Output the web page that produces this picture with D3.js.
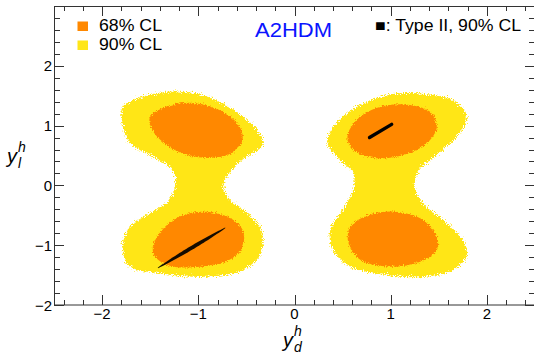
<!DOCTYPE html>
<html><head><meta charset="utf-8">
<script src="https://cdn.jsdelivr.net/npm/d3@7"></script>
<style>
body{margin:0;background:#fff}
svg{display:block}
text{font-family:"Liberation Sans",Arial,Helvetica,sans-serif}
</style>
</head><body>
<svg id="c" width="534" height="356"></svg>
<script>
// ---- data (y_d^h, y_l^h) ----
const xTicks = [-2, -1, 0, 1, 2];
const yTicks = [-2, -1, 0, 1, 2];
const legendItems = ["68% CL", "90% CL"];
const titleText = "A2HDM";
const typeIILabel = "\u25A0: Type II, 90% CL";

const yellowLeft = [[-1.78,1.32],[-1.40,1.55],[-0.98,1.52],[-0.64,1.27],[-0.39,0.93],[-0.33,0.68],[-0.54,0.43],[-0.67,0.23],[-0.74,-0.02],[-0.67,-0.24],[-0.49,-0.46],[-0.36,-0.69],[-0.33,-0.96],[-0.39,-1.24],[-0.57,-1.44],[-0.98,-1.53],[-1.43,-1.46],[-1.71,-1.36],[-1.79,-1.03],[-1.71,-0.69],[-1.50,-0.46],[-1.33,-0.29],[-1.24,-0.02],[-1.27,0.26],[-1.47,0.48],[-1.71,0.71],[-1.79,1.05]];
const yellowRight = [[0.34,0.73],[0.44,1.05],[0.65,1.32],[0.99,1.52],[1.41,1.52],[1.69,1.38],[1.79,1.15],[1.72,0.88],[1.51,0.55],[1.30,0.26],[1.25,-0.02],[1.33,-0.29],[1.54,-0.57],[1.75,-0.91],[1.79,-1.19],[1.65,-1.41],[1.33,-1.53],[0.92,-1.49],[0.58,-1.36],[0.40,-1.08],[0.37,-0.74],[0.50,-0.41],[0.61,-0.07],[0.61,0.21],[0.47,0.43]];
const orangeTopLeft = [[-1.50,1.15],[-1.33,1.32],[-1.06,1.38],[-0.74,1.23],[-0.57,0.98],[-0.54,0.76],[-0.64,0.55],[-0.88,0.46],[-1.19,0.55],[-1.42,0.80],[-1.50,1.01]];
const orangeBottomLeft = [[-1.43,-0.86],[-1.22,-0.54],[-0.98,-0.44],[-0.70,-0.52],[-0.54,-0.74],[-0.54,-1.03],[-0.67,-1.24],[-0.98,-1.36],[-1.33,-1.33],[-1.47,-1.13]];
const orangeTopRight = [[0.55,0.81],[0.65,1.10],[0.86,1.30],[1.17,1.35],[1.41,1.23],[1.48,0.98],[1.38,0.71],[1.13,0.51],[0.82,0.46],[0.61,0.60]];
const orangeBottomRight = [[0.58,-0.69],[0.78,-0.49],[1.06,-0.44],[1.33,-0.57],[1.48,-0.86],[1.48,-1.08],[1.30,-1.28],[0.99,-1.36],[0.68,-1.24],[0.56,-0.96]];
const typeIILeft = [[-1.42,-1.38],[-0.72,-0.71]];
const typeIIRight = [[0.78,0.80],[1.01,1.02]];

// ---- layout ----
const svg = d3.select("#c");
const x = d3.scaleLinear([-2.5, 2.5], [54, 535]);
const y = d3.scaleLinear([-2, 3], [305, 6]);
const cOrange = "#ff8800", cYellow = "#ffe619";

const defs = svg.append("defs");
function roughFilter(id, freq, scale, seed){
  const f = defs.append("filter").attr("id", id).attr("x","-10%").attr("y","-10%").attr("width","120%").attr("height","120%");
  f.append("feTurbulence").attr("type","fractalNoise").attr("baseFrequency",freq).attr("numOctaves",2).attr("seed",seed).attr("result","n");
  f.append("feDisplacementMap").attr("in","SourceGraphic").attr("in2","n").attr("scale",scale).attr("xChannelSelector","R").attr("yChannelSelector","G");
}
roughFilter("roughY", 0.9, 8, 3);
roughFilter("roughO", 0.9, 5, 7);
defs.append("clipPath").attr("id","plot").append("rect").attr("x",54).attr("y",6).attr("width",481).attr("height",299);

const line = d3.line().x(d => x(d[0])).y(d => y(d[1])).curve(d3.curveCatmullRomClosed.alpha(0.5));
const g = svg.append("g").attr("clip-path","url(#plot)");
const gy = g.append("g").attr("filter","url(#roughY)");
[yellowLeft, yellowRight].forEach(p => gy.append("path").attr("d", line(p)).attr("fill", cYellow));
const go = g.append("g").attr("filter","url(#roughO)");
[orangeTopLeft, orangeBottomLeft, orangeTopRight, orangeBottomRight].forEach(p => go.append("path").attr("d", line(p)).attr("fill", cOrange));

// Type II bands: lens shapes along the segment
function lens(seg, w, tipFrac){
  const [a, b] = seg.map(d => [x(d[0]), y(d[1])]);
  const dx = b[0]-a[0], dy = b[1]-a[1], L = Math.hypot(dx, dy);
  const nx = -dy/L, ny = dx/L;
  const up = [], dn = [];
  for (let i = 0; i <= 30; i++){
    const t = i/30;
    const h = w/2 * (tipFrac + (1-tipFrac) * Math.pow(Math.sin(Math.PI * t), 0.8));
    const px = a[0] + dx*t, py = a[1] + dy*t;
    up.push([px + nx*h, py + ny*h]);
    dn.unshift([px - nx*h, py - ny*h]);
  }
  return "M" + up.concat(dn).map(p => p.join(",")).join("L") + "Z";
}
g.append("path").attr("d", lens(typeIILeft, 3.8, 0.15)).attr("fill", "#000").attr("opacity", 0.92);
g.append("line").attr("x1", x(typeIIRight[0][0])).attr("y1", y(typeIIRight[0][1]))
  .attr("x2", x(typeIIRight[1][0])).attr("y2", y(typeIIRight[1][1]))
  .attr("stroke", "#000").attr("stroke-width", 3.4).attr("stroke-linecap","round");

// ---- frame & ticks ----
const ax = svg.append("g").attr("stroke", "#333").attr("stroke-width", 1);
ax.append("rect").attr("x",54.5).attr("y",6.5).attr("width",480).attr("height",298.5).attr("fill","none");
const xMinor = d3.range(-24, 25, 2).map(v => v/10);
const yMinor = d3.range(-20, 31, 2).map(v => v/10);
xMinor.forEach(v => {
  const major = Math.abs(v - Math.round(v)) < 1e-6;
  const len = major ? 10 : 5;
  const px = Math.round(x(v)) + 0.5;
  ax.append("line").attr("x1",px).attr("x2",px).attr("y1",305).attr("y2",305-len);
  ax.append("line").attr("x1",px).attr("x2",px).attr("y1",6).attr("y2",6+len);
});
yMinor.forEach(v => {
  const major = Math.abs(v - Math.round(v)) < 1e-6;
  const len = major ? 10 : 6;
  const py = Math.round(y(v)) + 0.5;
  ax.append("line").attr("x1",54).attr("x2",54+len).attr("y1",py).attr("y2",py);
  ax.append("line").attr("x1",535).attr("x2",535-len).attr("y1",py).attr("y2",py);
});
const fmt = v => (v < 0 ? "\u2212" : "") + Math.abs(v);
svg.append("g").selectAll("text").data(xTicks).join("text")
  .attr("x", d => x(d)).attr("y", 319).attr("text-anchor","middle")
  .attr("font-size", 15).text(fmt);
svg.append("g").selectAll("text").data(yTicks).join("text")
  .attr("x", 52).attr("y", d => y(d) + 5.5).attr("text-anchor","end")
  .attr("font-size", 15).text(fmt);

// axis titles
function title(xp, yp, sup, sub){
  const t = svg.append("g");
  t.append("text").attr("x", xp).attr("y", yp).attr("font-size", 20).attr("font-style","italic").text("y");
  t.append("text").attr("x", xp+11).attr("y", yp-11).attr("font-size", 14).attr("font-style","italic").text(sup);
  t.append("text").attr("x", xp+11).attr("y", yp+5).attr("font-size", 14).attr("font-style","italic").text(sub);
}
title(283, 347, "h", "d");
title(7, 163, "h", "l");

// legend
const leg = svg.append("g");
[cOrange, cYellow].forEach((c, i) => {
  leg.append("rect").attr("x", 77.5).attr("y", 21.5 + i*19).attr("width", 10.5).attr("height", 9.5).attr("fill", c);
  leg.append("text").attr("x", 99).attr("y", 31 + i*19).attr("font-size", 16)
    .attr("textLength", 63).attr("lengthAdjust", "spacingAndGlyphs").text(legendItems[i]);
});
svg.append("text").attr("x", 255).attr("y", 37).attr("font-size", 19.5).attr("fill","#0a14ff")
  .attr("textLength", 77).attr("lengthAdjust", "spacingAndGlyphs").text(titleText);
svg.append("text").attr("x", 375).attr("y", 31).attr("font-size", 16)
  .attr("textLength", 146).attr("lengthAdjust", "spacingAndGlyphs").text(typeIILabel);
</script>
</body></html>
